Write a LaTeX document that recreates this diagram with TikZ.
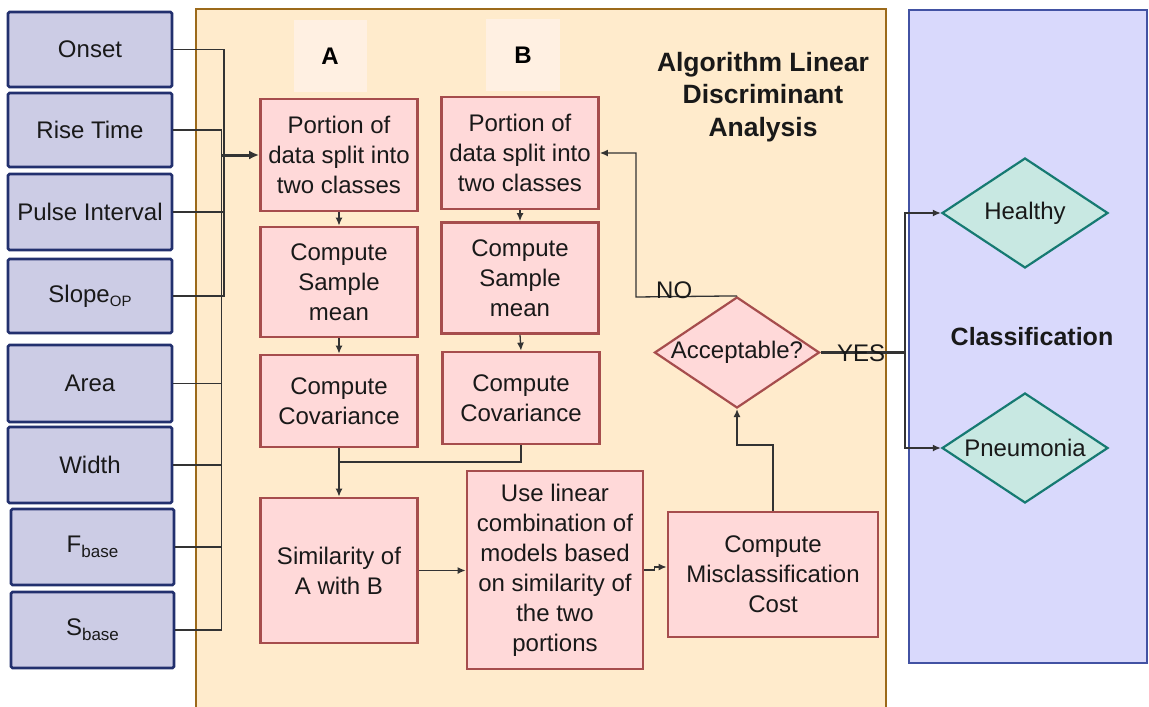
\documentclass[tikz,border=0pt]{standalone}
\usepackage{fontspec}
\setmainfont{Liberation Sans}
\usetikzlibrary{arrows.meta,shapes.geometric}

\definecolor{inFill}{HTML}{CCCCE5}
\definecolor{inLine}{HTML}{22306E}
\definecolor{algFill}{HTML}{FFEBCC}
\definecolor{algLine}{HTML}{9C6A1A}
\definecolor{stepFill}{HTML}{FFD9D9}
\definecolor{stepLine}{HTML}{A64D4D}
\definecolor{tagFill}{HTML}{FFF0E2}
\definecolor{clsFill}{HTML}{D9D9FC}
\definecolor{clsLine}{HTML}{4252A3}
\definecolor{outFill}{HTML}{C8E8E2}
\definecolor{outLine}{HTML}{167A72}
\definecolor{wire}{HTML}{333333}

\tikzset{
  body/.style={font=\fontsize{24}{30}\selectfont, align=center, text=black!90},
  inbox/.style={body, draw=inLine, fill=inFill, line width=2.8pt, rounded corners=1.5pt, inner sep=0pt},
  stepbox/.style={body, draw=stepLine, fill=stepFill, line width=2.8pt, inner sep=0pt},
  tagbox/.style={fill=tagFill, inner sep=0pt, font=\fontsize{24}{30}\selectfont\bfseries},
  dec/.style={shape=diamond, draw=stepLine, fill=stepFill, line width=2.2pt, inner sep=0pt},
  outcome/.style={shape=diamond, draw=outLine, fill=outFill, line width=2.2pt, inner sep=0pt},
  conn/.style={draw=wire, line width=1.3pt},
  arr/.style={conn, -{Latex[length=8pt,width=7pt]}},
  heading/.style={font=\fontsize{26.5}{32.5}\selectfont\bfseries, align=center, text=black!90}
}

\begin{document}
\begin{tikzpicture}[x=1pt,y=-1pt]
\useasboundingbox (0,0) rectangle (1149,707);

% panels
\draw[algLine, fill=algFill, line width=2.4pt] (196,9) rectangle (886,720);
\draw[clsLine, fill=clsFill, line width=2.4pt] (909,10) rectangle (1147,663);

% input features
\node[inbox, minimum width=164pt, minimum height=75pt] (onset) at (90,49.5) {Onset};
\node[inbox, minimum width=164pt, minimum height=74pt] (rise) at (90,130) {Rise Time};
\node[inbox, minimum width=164pt, minimum height=76pt] (pulse) at (90,212) {Pulse Interval};
\node[inbox, minimum width=164pt, minimum height=74pt] (slope) at (90,296) {Slope\raisebox{-4pt}{\fontsize{15}{15}\selectfont OP}};
\node[inbox, minimum width=164pt, minimum height=77pt] (area) at (90,383.5) {Area};
\node[inbox, minimum width=164pt, minimum height=76pt] (width) at (90,465) {Width};
\node[inbox, minimum width=163pt, minimum height=76pt] (fbase) at (92.5,547) {F\raisebox{-5pt}{\fontsize{17}{17}\selectfont base}};
\node[inbox, minimum width=163pt, minimum height=76pt] (sbase) at (92.5,630) {S\raisebox{-5pt}{\fontsize{17}{17}\selectfont base}};

% column headers
\node[tagbox, minimum width=73pt, minimum height=72pt] (tagA) at (330,56) {A};
\node[tagbox, minimum width=74pt, minimum height=72pt] (tagB) at (523,55) {B};

% heading of the algorithm panel
\node[heading] (alg) at (763,97) {Algorithm Linear\\Discriminant\\Analysis};

% portion A
\node[stepbox, minimum width=157pt, minimum height=112pt] (a1) at (339,155) {Portion of\\data split into\\two classes};
\node[stepbox, minimum width=157pt, minimum height=110pt] (a2) at (339,282) {Compute\\Sample\\mean};
\node[stepbox, minimum width=157pt, minimum height=92pt] (a3) at (339,401) {Compute\\Covariance};
\node[stepbox, minimum width=157pt, minimum height=145pt] (a4) at (339,570.5) {Similarity of\\A with B};

% portion B
\node[stepbox, minimum width=157pt, minimum height=112pt] (b1) at (520,153) {Portion of\\data split into\\two classes};
\node[stepbox, minimum width=157pt, minimum height=111pt] (b2) at (520,278) {Compute\\Sample\\mean};
\node[stepbox, minimum width=157pt, minimum height=92pt] (b3) at (521,398) {Compute\\Covariance};

% combination and cost
\node[stepbox, minimum width=176pt, minimum height=198pt] (comb) at (555,570) {Use linear\\combination of\\models based\\on similarity of\\the two\\portions};
\node[stepbox, minimum width=210pt, minimum height=125pt] (cost) at (773,574.5) {Compute\\Misclassification\\Cost};

% decision
\node[dec, minimum width=165pt, minimum height=111pt] (acc) at (737,352.5) {};
\node[body] at (acc) {Acceptable?};

% classification panel
\node[font=\fontsize{25}{30}\selectfont\bfseries, text=black!90] (clsT) at (1032,337) {Classification};
\node[outcome, minimum width=166pt, minimum height=110pt] (healthy) at (1025,213) {};
\node[body] at (healthy) {Healthy};
\node[outcome, minimum width=166pt, minimum height=110pt] (pneu) at (1025,448) {};
\node[body] at (pneu) {Pneumonia};

% feature bus
\coordinate (busA) at (224,0);
\coordinate (busB) at (221.5,0);
\draw[conn] (onset.east) -- (onset.east -| busA) -- (slope.east -| busA) -- (slope.east);
\draw[conn] (rise.east) -- (rise.east -| busB) -- (sbase.east -| busB) -- (sbase.east);
\draw[conn] (pulse.east) -- (pulse.east -| busA);
\draw[conn] (area.east) -- (area.east -| busB);
\draw[conn] (width.east) -- (width.east -| busB);
\draw[conn] (fbase.east) -- (fbase.east -| busB);
\draw[draw=wire, line width=3pt, -{Latex[length=10pt,width=9pt]}] (a1.west -| busB) -- (a1.west);

% flow inside the algorithm
\draw[arr] (a1.south) -- (a2.north);
\draw[arr] (a2.south) -- (a3.north);
\draw[arr] (b1.south) -- (b2.north);
\draw[arr] (b2.south) -- (b3.north);
\coordinate (merge) at (339,462);
\draw[arr] (a3.south) -- (a4.north);
\draw[conn] (b3.south) |- (merge);
\draw[arr] (a4.east) -- (a4.east -| comb.west);
\draw[arr] (comb.east) -- ++(10,0) -- ++(0,-3) -- (cost.west |- 0,567);
\coordinate (up) at (773,445);
\draw[arr] (cost.north) -- (up) -| (acc.south);

% NO branch back to portion B
\coordinate (back) at (636,297);
\draw[arr] (acc.north) -- (back) |- (b1.east);
\node[body, anchor=south west, inner sep=0pt] (no) at (656,299) {NO};

% YES branch to the classes
\coordinate (fork) at (905,352.5);
\draw[conn, line width=2.2pt] (acc.east) -- (fork);
\draw[arr, line width=1.8pt] (fork) |- (healthy.west);
\draw[arr, line width=1.8pt] (fork) |- (pneu.west);
\node[body, anchor=south west, inner sep=0pt] (yes) at (837,362) {YES};
\end{tikzpicture}
\end{document}
